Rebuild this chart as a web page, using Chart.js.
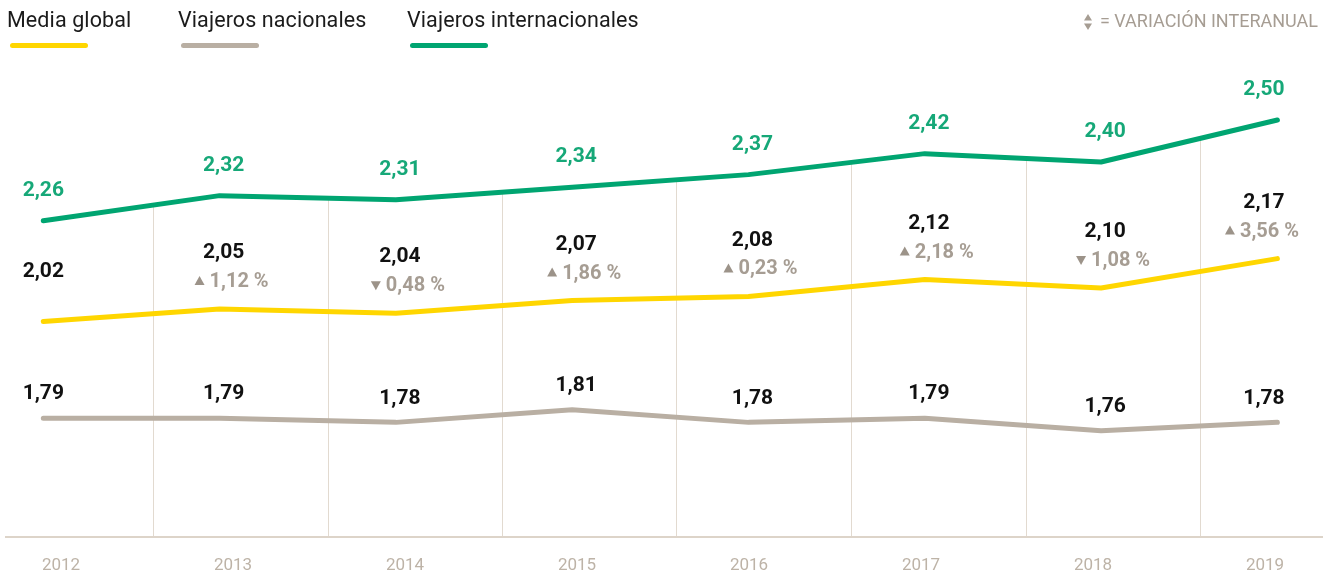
<!DOCTYPE html>
<html lang="es">
<head>
<meta charset="utf-8">
<title>Media global vs viajeros</title>
<script src="https://cdn.jsdelivr.net/npm/chart.js@4/dist/chart.umd.min.js"></script>
<style>
  html, body { margin: 0; padding: 0; background: #fff; }
  body { width: 1332px; height: 576px; position: relative; overflow: hidden; font-family: Roboto, "Noto Sans", sans-serif; }
  #chart { position: absolute; left: 0; top: 0; }
  .lg-item { position: absolute; top: 6px; font-size: 21.5px; line-height: 28px; color: #1b1b1b; white-space: nowrap; letter-spacing: 0.1px; }
  .lg-item i { position: absolute; left: 3px; top: 37px; width: 78px; height: 5px; border-radius: 3px; }
  .note { position: absolute; top: 10px; right: 14px; font-size: 18px; line-height: 22px; color: #a69d93; white-space: nowrap; }
  .note svg { vertical-align: -4px; margin-right: 7px; }
</style>
</head>
<body>
<canvas id="chart" width="1332" height="576"></canvas>
<div class="lg-item" style="left:7px">Media global<i style="background:#ffd600"></i></div>
<div class="lg-item" style="left:178px">Viajeros nacionales<i style="background:#b9afa3"></i></div>
<div class="lg-item" style="left:407px">Viajeros internacionales<i style="background:#00a571"></i></div>
<div class="note"><svg width="10" height="18" viewBox="0 0 10 18"><path d="M5 1 L9 7.5 L1 7.5 Z M1 10.5 L9 10.5 L5 17 Z" fill="#a69d93"/></svg>= VARIACIÓN INTERANUAL</div>
<script>
const YEARS = ["2012", "2013", "2014", "2015", "2016", "2017", "2018", "2019"];
const MEDIA_GLOBAL = [2.02, 2.05, 2.04, 2.07, 2.08, 2.12, 2.10, 2.17];
const NACIONALES = [1.79, 1.79, 1.78, 1.81, 1.78, 1.79, 1.76, 1.78];
const INTERNACIONALES = [2.26, 2.32, 2.31, 2.34, 2.37, 2.42, 2.40, 2.50];
// variación interanual de la media global (%)
const VAR_MEDIA = [null, 1.12, -0.48, 1.86, 0.23, 2.18, -1.08, 3.56];

const AREA_L = 6, AREA_R = 1322;
// value v sits at first + v * step px
function pxRange(first, step) {
  return { min: (AREA_L - first) / step, max: (AREA_R - first) / step };
}

const fmt = (v) => v.toFixed(2).replace(".", ",");
const pts = (arr) => arr.map((y, x) => ({ x, y }));

function drawVar(ctx, pct, cx, cy) {
  const txt = fmt(Math.abs(pct)) + " %";
  ctx.font = "bold 20px Roboto";
  const w = ctx.measureText(txt).width;
  const left = cx - (15 + w) / 2;
  ctx.fillStyle = "#9c9389";
  ctx.beginPath();
  if (pct >= 0) { ctx.moveTo(left + 5, cy - 5); ctx.lineTo(left + 10, cy + 4); ctx.lineTo(left, cy + 4); }
  else { ctx.moveTo(left, cy - 4); ctx.lineTo(left + 10, cy - 4); ctx.lineTo(left + 5, cy + 5); }
  ctx.closePath();
  ctx.fill();
  ctx.fillStyle = "#a69d93";
  ctx.textAlign = "left";
  ctx.fillText(txt, left + 15, cy + 1);
  ctx.textAlign = "center";
}

const valueLabels = {
  id: "valueLabels",
  afterDatasetsDraw(chart) {
    const { ctx } = chart;
    ctx.save();
    ctx.textBaseline = "middle";
    ctx.textAlign = "center";
    chart.data.datasets.forEach((ds, di) => {
      chart.getDatasetMeta(di).data.forEach((pt, i) => {
        const x = i === 0 ? pt.x : Math.min(pt.x + 4, 1264);
        ctx.font = "bold 21px Roboto";
        ctx.fillStyle = ds.labelColor;
        const txt = fmt(ds.data[i].y);
        if (ds.key === "media") {
          const pct = VAR_MEDIA[i];
          if (pct == null) { ctx.fillText(txt, x, pt.y - 50); return; }
          ctx.fillText(txt, x, pt.y - 56);
          drawVar(ctx, pct, Math.min(x + 8, 1262), pt.y - 28);
        } else {
          ctx.fillText(txt, x, pt.y - ds.labelGap);
        }
      });
    });
    ctx.restore();
  },
};

const line = { borderWidth: 5, pointRadius: 0, tension: 0, borderCapStyle: "round", borderJoinStyle: "round" };

new Chart(document.getElementById("chart"), {
  type: "line",
  data: {
    datasets: [
      { ...line, key: "media", label: "Media global", data: pts(MEDIA_GLOBAL), borderColor: "#ffd600", labelColor: "#111", fill: false },
      { ...line, key: "nac", label: "Viajeros nacionales", data: pts(NACIONALES), borderColor: "#b9afa3", labelColor: "#111", labelGap: 24, fill: false },
      // white fill above the green line hides the vertical guides there
      { ...line, key: "int", label: "Viajeros internacionales", data: pts(INTERNACIONALES), borderColor: "#00a571", labelColor: "#16a878", labelGap: 30, fill: "end", backgroundColor: "#ffffff" },
    ],
  },
  options: {
    responsive: false,
    animation: false,
    events: [],
    layout: { padding: { left: AREA_L, right: 1332 - AREA_R, top: 60, bottom: 0 } },
    scales: {
      x: { type: "linear", display: false, ...pxRange(43.3, 176.3) },
      xg: {
        type: "linear", position: "bottom", ...pxRange(-21, 174.5),
        afterBuildTicks: (s) => { s.ticks = [1, 2, 3, 4, 5, 6, 7].map((value) => ({ value })); },
        afterFit: (s) => { s.height = 0; },
        ticks: { display: false },
        grid: { color: "#e2dad0", lineWidth: 1, drawTicks: false },
        border: { display: false },
      },
      xl: {
        type: "linear", position: "bottom", ...pxRange(61, 172),
        afterBuildTicks: (s) => { s.ticks = YEARS.map((_, value) => ({ value })); },
        afterFit: (s) => { s.height = 39; },
        ticks: { callback: (v) => YEARS[v], autoSkip: false, maxRotation: 0, padding: 19, color: "#bdb3a7", font: { family: "Roboto", size: 17 } },
        grid: { display: false, drawTicks: false },
        border: { color: "#ddd4c9", width: 2 },
      },
      y: { type: "linear", display: false, min: 1.507, max: 2.643 },
    },
    plugins: { legend: { display: false }, tooltip: { enabled: false } },
  },
  plugins: [valueLabels],
});
</script>
</body>
</html>
